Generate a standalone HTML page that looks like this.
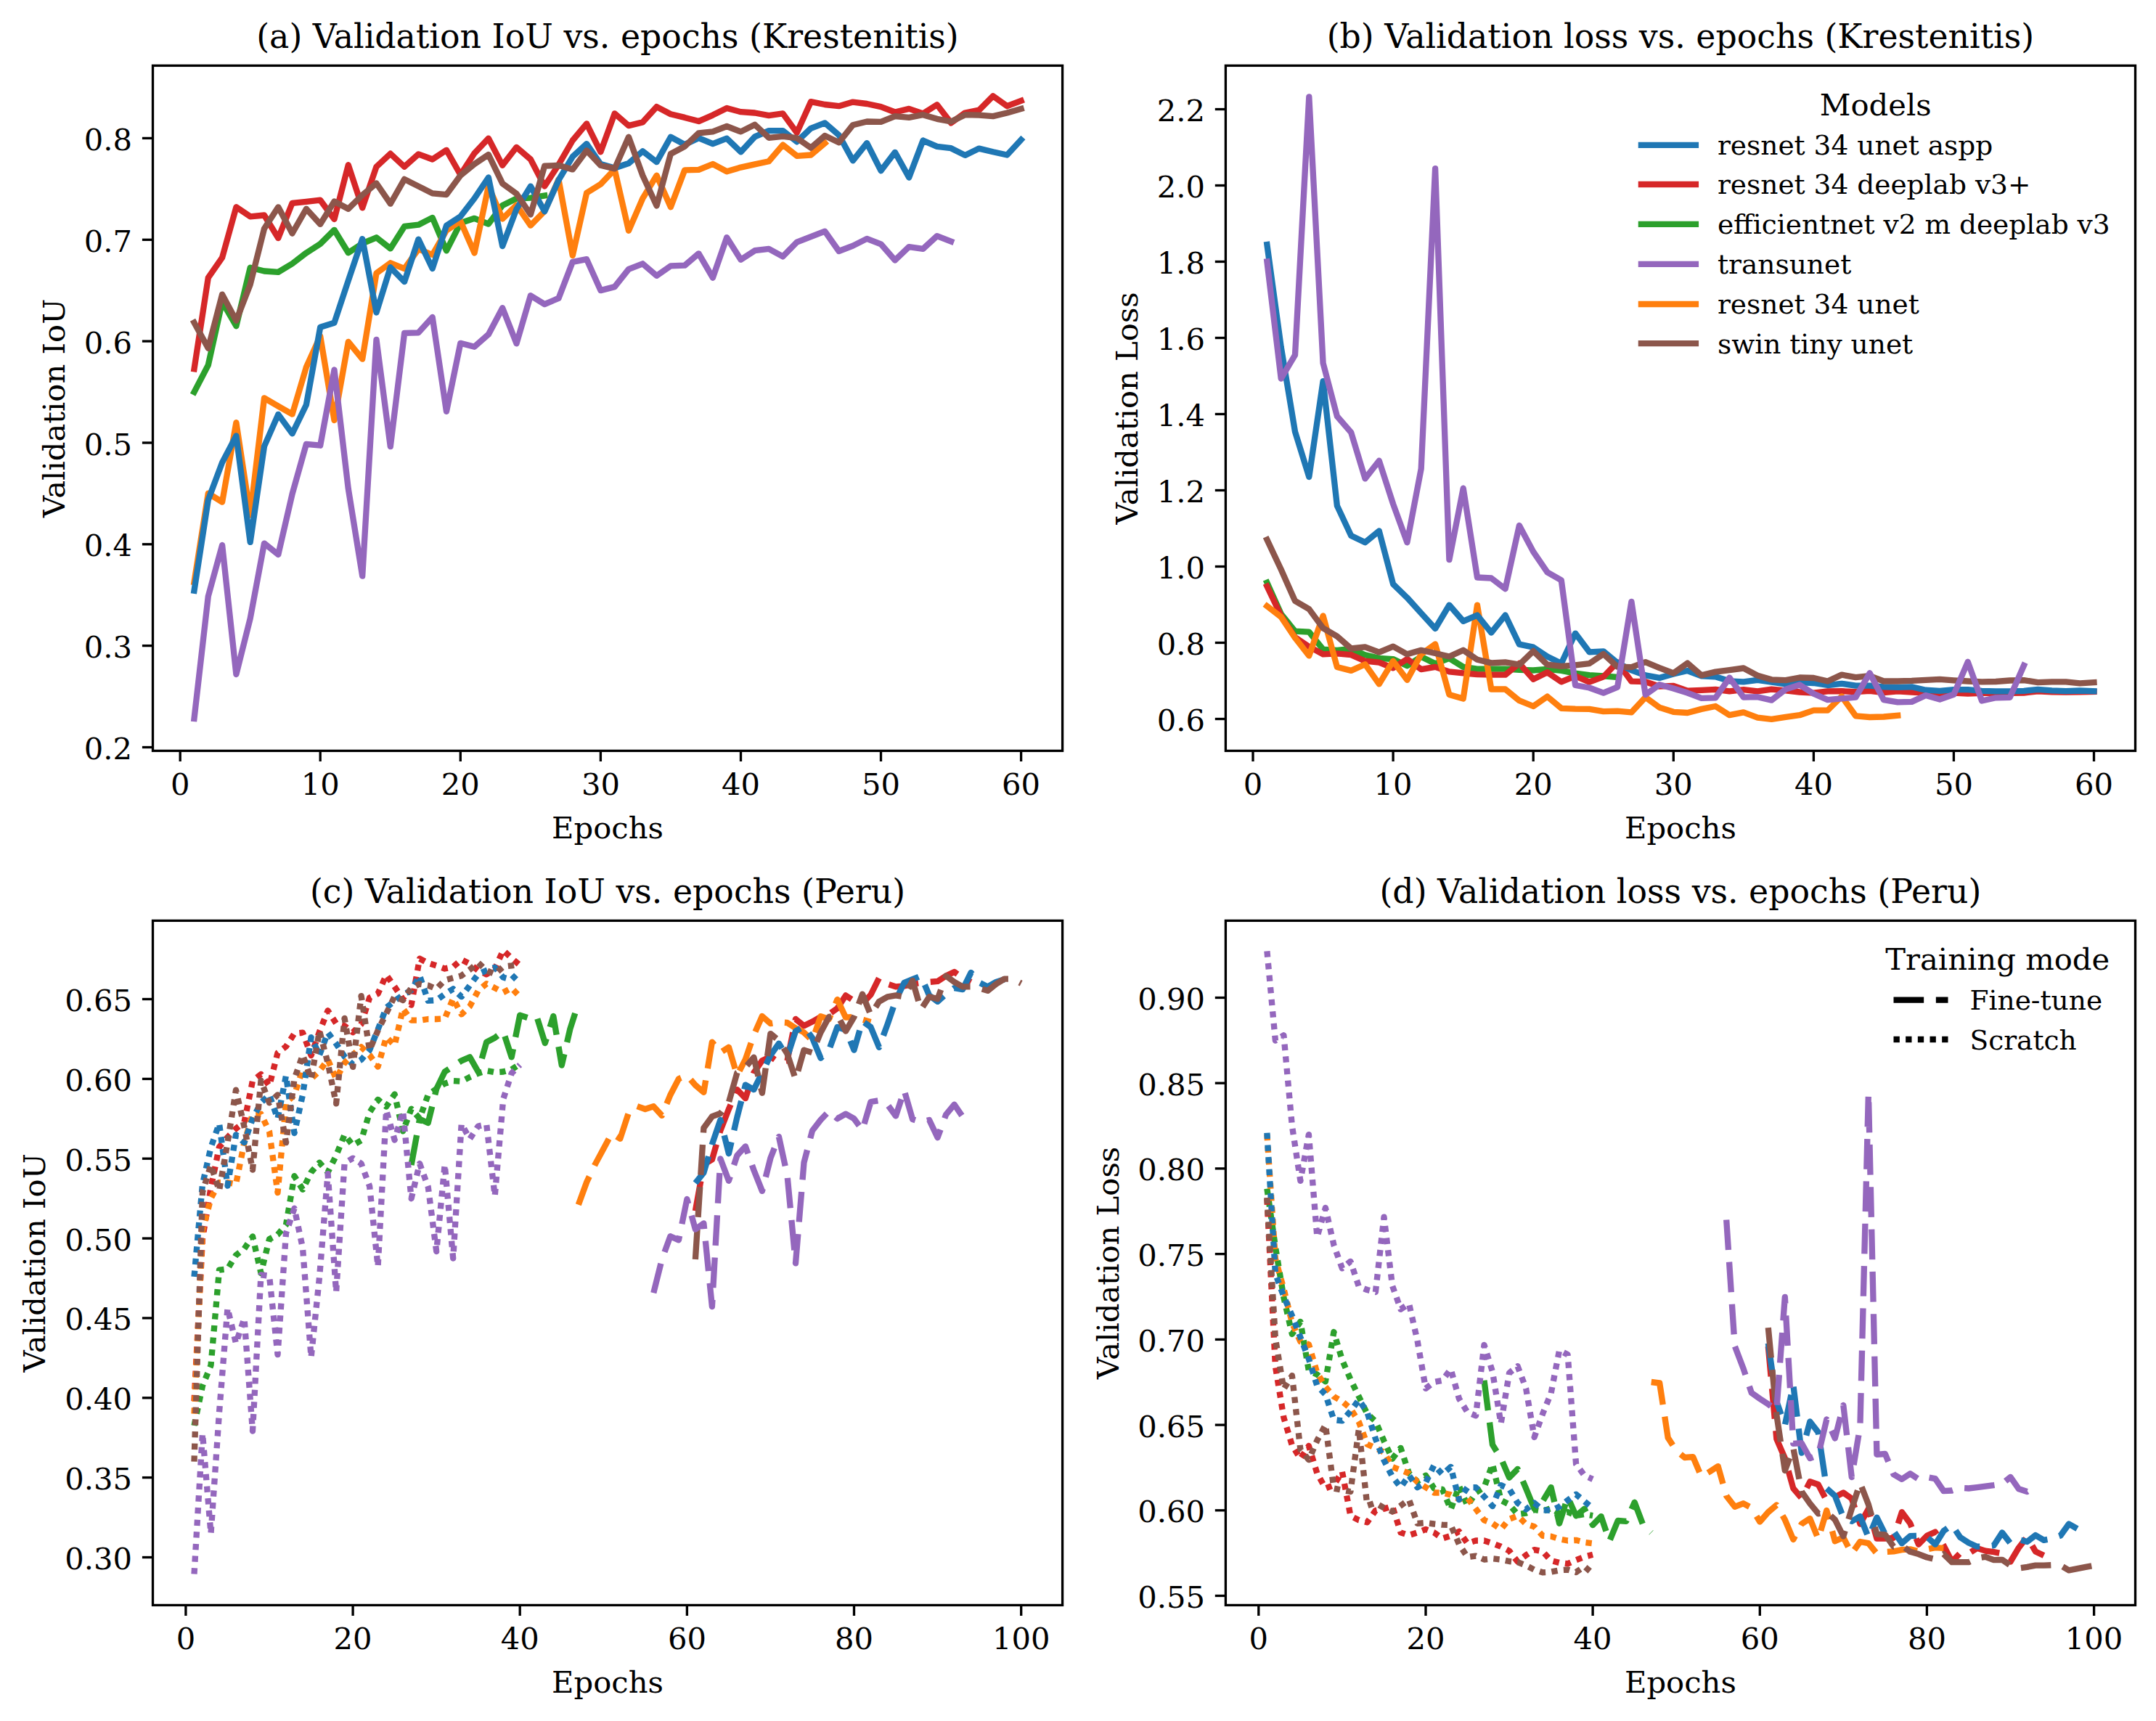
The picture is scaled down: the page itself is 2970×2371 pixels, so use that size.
<!DOCTYPE html>
<html lang="en"><head><meta charset="utf-8"><title>Validation curves</title>
<style>html,body{margin:0;padding:0;background:#fff}svg{display:block}</style></head>
<body>
<svg xmlns="http://www.w3.org/2000/svg" width="2970" height="2371" viewBox="0 0 2970 2371" font-family="'DejaVu Serif', 'Liberation Serif', serif" fill="#000">
<rect width="2970" height="2371" fill="#fff"/>
<defs>
<clipPath id="cpa"><rect x="210.5" y="90.4" width="1253.1" height="944"/></clipPath>
<clipPath id="cpb"><rect x="1688.4" y="90.4" width="1253.1" height="944"/></clipPath>
<clipPath id="cpc"><rect x="210.5" y="1268.4" width="1253.1" height="943"/></clipPath>
<clipPath id="cpd"><rect x="1688.4" y="1268.4" width="1253.1" height="943"/></clipPath>
</defs>
<g clip-path="url(#cpa)">
<polyline points="267.5,540.1 286.8,503 306.1,415.8 325.4,449.2 344.7,368.8 364,373.5 383.3,374.9 402.6,363.2 421.9,348.4 441.2,336 460.5,316.8 479.8,348.2 499.2,335.4 518.5,327.3 537.8,342.4 557.1,311.9 576.4,309.7 595.7,299.9 615,345.3 634.3,307.3 653.6,300.8 672.9,308.6 692.2,282.9 711.5,273.5 730.9,272.7 750.2,269.6" fill="none" stroke="#2ca02c" stroke-width="8.333" stroke-linejoin="round" stroke-linecap="square"/>
<polyline points="267.5,802 286.8,679.6 306.1,691.6 325.4,582.2 344.7,709.6 364,548.4 383.3,559.6 402.6,570.6 421.9,505.8 441.2,463.1 460.5,579 479.8,470.9 499.2,494.7 518.5,376.3 537.8,362.3 557.1,370.1 576.4,343.2 595.7,351 615,317.5 634.3,304.6 653.6,348.5 672.9,256.6 692.2,301.5 711.5,282.5 730.9,310.6 750.2,290.9 769.5,247.3 788.8,352.1 808.1,265.8 827.4,253.8 846.7,233.4 866,317.8 885.3,273.3 904.6,241.7 923.9,285.3 943.2,234.3 962.5,233.9 981.9,226 1001.2,236.2 1020.5,230.6 1039.8,226.4 1059.1,222.2 1078.4,199.6 1097.7,214.8 1117,213.5 1136.3,197.2" fill="none" stroke="#ff7f0e" stroke-width="8.333" stroke-linejoin="round" stroke-linecap="square"/>
<polyline points="267.5,813.7 286.8,688.7 306.1,637.1 325.4,600.5 344.7,746.9 364,614.9 383.3,570.9 402.6,597.4 421.9,557.7 441.2,450.7 460.5,444.8 479.8,386.5 499.2,329.1 518.5,430.5 537.8,368.3 557.1,388.1 576.4,329.6 595.7,370 615,310.7 634.3,298.3 653.6,273.3 672.9,244.5 692.2,339.1 711.5,288.1 730.9,256.6 750.2,291.3 769.5,248.2 788.8,215.8 808.1,198.1 827.4,226 846.7,231.5 866,225 885.3,208.3 904.6,223.2 923.9,188.8 943.2,199.1 962.5,190.1 981.9,198.1 1001.2,190.7 1020.5,209.3 1039.8,188.4 1059.1,180.1 1078.4,180.1 1097.7,195.3 1117,176.8 1136.3,169.4 1155.6,186.1 1174.9,221.3 1194.2,197.2 1213.5,235.2 1232.9,209.8 1252.2,244.5 1271.5,193.5 1290.8,201.8 1310.1,204.2 1329.4,213.9 1348.7,204.6 1368,209.3 1387.3,213.5 1406.6,192.6" fill="none" stroke="#1f77b4" stroke-width="8.333" stroke-linejoin="round" stroke-linecap="square"/>
<polyline points="267.5,508.3 286.8,382.7 306.1,354.9 325.4,285.3 344.7,298.3 364,296.5 383.3,328 402.6,279.8 421.9,277.9 441.2,275.7 460.5,302 479.8,227.3 499.2,286.3 518.5,229.7 537.8,211.7 557.1,229.7 576.4,212.4 595.7,219.5 615,206.8 634.3,240.8 653.6,211.1 672.9,190.7 692.2,227.8 711.5,202.8 730.9,219.5 750.2,256.6 769.5,226.9 788.8,193.5 808.1,170.3 827.4,209.3 846.7,156.4 866,173.1 885.3,168.4 904.6,147.1 923.9,157.3 943.2,161.9 962.5,167.1 981.9,158.6 1001.2,149 1020.5,154.2 1039.8,155.5 1059.1,159.2 1078.4,156.4 1097.7,182.9 1117,140.2 1136.3,144 1155.6,146.2 1174.9,140.6 1194.2,143 1213.5,147.1 1232.9,154.5 1252.2,149.9 1271.5,156.4 1290.8,144.3 1310.1,169.4 1329.4,155.5 1348.7,151.7 1368,132.3 1387.3,146.2 1406.6,138.8" fill="none" stroke="#d62728" stroke-width="8.333" stroke-linejoin="round" stroke-linecap="square"/>
<polyline points="267.5,990 286.8,821.5 306.1,751 325.4,929.1 344.7,852.1 364,748.6 383.3,764 402.6,680.5 421.9,611.9 441.2,613.7 460.5,509.5 479.8,673.4 499.2,793.7 518.5,467.9 537.8,615.2 557.1,458.9 576.4,458.3 595.7,437 615,566.9 634.3,472.8 653.6,477.7 672.9,460.7 692.2,424.3 711.5,473.3 730.9,407.2 750.2,419.1 769.5,410.9 788.8,360.8 808.1,357.1 827.4,400.1 846.7,395.1 866,370.8 885.3,363.3 904.6,379.8 923.9,366.4 943.2,365.7 962.5,349.3 981.9,382.7 1001.2,327.1 1020.5,357.7 1039.8,345.2 1059.1,342.8 1078.4,353.4 1097.7,333.6 1117,326.1 1136.3,318.7 1155.6,346 1174.9,338.6 1194.2,328.9 1213.5,336.3 1232.9,358.6 1252.2,340.1 1271.5,342.8 1290.8,325.2 1310.1,332.6" fill="none" stroke="#9467bd" stroke-width="8.333" stroke-linejoin="round" stroke-linecap="square"/>
<polyline points="267.5,444.5 286.8,479.8 306.1,405.6 325.4,441.7 344.7,392 364,315 383.3,285.3 402.6,321.5 421.9,287.7 441.2,308.9 460.5,277.5 479.8,287.7 499.2,268.6 518.5,252.5 537.8,280.7 557.1,246.9 576.4,256.6 595.7,266.4 615,268.1 634.3,241.7 653.6,226 672.9,213 692.2,252.9 711.5,266.8 730.9,295.5 750.2,228.7 769.5,227.8 788.8,233.4 808.1,207.4 827.4,227.8 846.7,232.4 866,188.8 885.3,241.7 904.6,283.5 923.9,212 943.2,201.8 962.5,183.3 981.9,181.4 1001.2,174 1020.5,181.4 1039.8,171.7 1059.1,189.8 1078.4,187.9 1097.7,190.1 1117,203.7 1136.3,187 1155.6,196.3 1174.9,172.2 1194.2,167.5 1213.5,167.9 1232.9,160.1 1252.2,161.9 1271.5,158.2 1290.8,163.8 1310.1,167.5 1329.4,158.2 1348.7,158.6 1368,160.1 1387.3,155.5 1406.6,149.9" fill="none" stroke="#8c564b" stroke-width="8.333" stroke-linejoin="round" stroke-linecap="square"/>
</g>
<g clip-path="url(#cpb)">
<polyline points="1745.4,802.7 1764.7,845.8 1784,869.7 1803.3,870.7 1822.6,894.7 1841.9,895.8 1861.2,894 1880.5,902.3 1899.8,906.9 1919.1,908.1 1938.4,917.3 1957.7,904.8 1977.1,914.3 1996.4,906.9 2015.7,918.9 2035,921.7 2054.3,921.7 2073.6,921.7 2092.9,922.9 2112.2,923.5 2131.5,921.8 2150.8,923.9 2170.1,927.7 2189.4,930.2 2208.8,931.4 2228.1,932.9" fill="none" stroke="#2ca02c" stroke-width="8.333" stroke-linejoin="round" stroke-linecap="square"/>
<polyline points="1745.4,807.7 1764.7,848.2 1784,878 1803.3,890.9 1822.6,901.3 1841.9,900.3 1861.2,902.1 1880.5,910.7 1899.8,912.7 1919.1,920.3 1938.4,907.9 1957.7,922.1 1977.1,918.9 1996.4,925.4 2015.7,927.3 2035,929.1 2054.3,929.7 2073.6,929.7 2092.9,913.9 2112.2,935.8 2131.5,926.3 2150.8,939.4 2170.1,931.4 2189.4,939.6 2208.8,932.3 2228.1,912.4 2247.4,938.7 2266.7,939.2 2286,945.7 2305.3,944.9 2324.6,951.7 2343.9,950.8 2363.2,949.8 2382.5,952.3 2401.8,950.2 2421.1,952.4 2440.4,949.6 2459.8,951.3 2479.1,953.5 2498.4,954.6 2517.7,952.4 2537,952.2 2556.3,953.2 2575.6,951.8 2594.9,954.1 2614.2,952.4 2633.5,953.5 2652.8,954.6 2672.1,956.3 2691.4,954.6 2710.8,955.7 2730.1,954.9 2749.4,954.5 2768.7,954.9 2788,954.5 2807.3,952.4 2826.6,953.3 2845.9,953.7 2865.2,953.3 2884.5,953" fill="none" stroke="#d62728" stroke-width="8.333" stroke-linejoin="round" stroke-linecap="square"/>
<polyline points="1745.4,835.1 1764.7,849.9 1784,878.8 1803.3,903.4 1822.6,848.4 1841.9,919 1861.2,923.9 1880.5,915.2 1899.8,942.3 1919.1,910.7 1938.4,936.8 1957.7,901.3 1977.1,887.4 1996.4,957 2015.7,962.5 2035,833.6 2054.3,949.5 2073.6,949.5 2092.9,965.2 2112.2,973 2131.5,959.6 2150.8,975.8 2170.1,976.7 2189.4,976.9 2208.8,980.2 2228.1,979.7 2247.4,981.3 2266.7,960.7 2286,974.7 2305.3,980.8 2324.6,982 2343.9,976.9 2363.2,973 2382.5,985.2 2401.8,981.3 2421.1,988.6 2440.4,990.8 2459.8,987.8 2479.1,985.2 2498.4,978.6 2517.7,978.6 2537,959.5 2556.3,986.3 2575.6,988 2594.9,987.5 2614.2,985.8" fill="none" stroke="#ff7f0e" stroke-width="8.333" stroke-linejoin="round" stroke-linecap="square"/>
<polyline points="1745.4,337 1764.7,478 1784,594.8 1803.3,657 1822.6,525.2 1841.9,696.8 1861.2,738 1880.5,747.3 1899.8,731.5 1919.1,804.8 1938.4,823.4 1957.7,844.7 1977.1,866 1996.4,833.6 2015.7,855.8 2035,847.5 2054.3,871.6 2073.6,847.5 2092.9,887.7 2112.2,891.7 2131.5,904.4 2150.8,913.9 2170.1,872.6 2189.4,898.3 2208.8,897.3 2228.1,913.2 2247.4,923.4 2266.7,930.4 2286,933.9 2305.3,928.5 2324.6,924 2343.9,931.4 2363.2,932.3 2382.5,938.3 2401.8,939.3 2421.1,936.8 2440.4,939.6 2459.8,942.4 2479.1,940.2 2498.4,941 2517.7,944 2537,941.8 2556.3,944.6 2575.6,944.6 2594.9,946.3 2614.2,946.8 2633.5,946.3 2652.8,950.7 2672.1,951.8 2691.4,950.2 2710.8,950.2 2730.1,951.8 2749.4,952.4 2768.7,952.4 2788,951.8 2807.3,949.9 2826.6,951.3 2845.9,952.2 2865.2,951.5 2884.5,952.2" fill="none" stroke="#1f77b4" stroke-width="8.333" stroke-linejoin="round" stroke-linecap="square"/>
<polyline points="1745.4,743.6 1764.7,784.5 1784,827.9 1803.3,839.1 1822.6,865.4 1841.9,876.6 1861.2,893.5 1880.5,891.3 1899.8,898.6 1919.1,890.7 1938.4,901.3 1957.7,895.8 1977.1,900 1996.4,904.5 2015.7,895.7 2035,908.7 2054.3,913.4 2073.6,912.4 2092.9,915.7 2112.2,897 2131.5,915.7 2150.8,917.9 2170.1,916.3 2189.4,914.1 2208.8,901 2228.1,918.6 2247.4,919.2 2266.7,912.2 2286,920.1 2305.3,927.5 2324.6,913.6 2343.9,930.4 2363.2,925.6 2382.5,923.1 2401.8,920.5 2421.1,930.7 2440.4,936.3 2459.8,937.1 2479.1,933.5 2498.4,934 2517.7,938.5 2537,929.6 2556.3,933.2 2575.6,931.2 2594.9,938.5 2614.2,938.5 2633.5,937.9 2652.8,936.8 2672.1,935.9 2691.4,937.4 2710.8,938.5 2730.1,939.3 2749.4,939 2768.7,937.5 2788,937.1 2807.3,940.2 2826.6,939.3 2845.9,939.3 2865.2,941.3 2884.5,940.2" fill="none" stroke="#8c564b" stroke-width="8.333" stroke-linejoin="round" stroke-linecap="square"/>
<polyline points="1745.4,360.3 1764.7,521.5 1784,489.1 1803.3,133.4 1822.6,500.2 1841.9,573.5 1861.2,595.7 1880.5,659.4 1899.8,634.7 1919.1,694.4 1938.4,747.3 1957.7,645.8 1977.1,232.1 1996.4,771.1 2015.7,672.7 2035,795.5 2054.3,796.5 2073.6,811.3 2092.9,724 2112.2,760.1 2131.5,788.3 2150.8,799.4 2170.1,944 2189.4,947.5 2208.8,954.6 2228.1,946.6 2247.4,828.8 2266.7,957.2 2286,943.2 2305.3,948.6 2324.6,954.6 2343.9,961.9 2363.2,961.3 2382.5,933.6 2401.8,960.7 2421.1,960.2 2440.4,964.6 2459.8,949.6 2479.1,943.5 2498.4,955.7 2517.7,964.1 2537,962.4 2556.3,960.7 2575.6,927.3 2594.9,964.1 2614.2,967.4 2633.5,966.9 2652.8,958 2672.1,963.5 2691.4,956.8 2710.8,911.8 2730.1,965.5 2749.4,961.3 2768.7,960.9 2788,916.8" fill="none" stroke="#9467bd" stroke-width="8.333" stroke-linejoin="round" stroke-linecap="square"/>
</g>
<g clip-path="url(#cpc)">
<polyline points="267.5,1964 279,1909.2 290.5,1881 302,1749.6 313.5,1748.2 325,1729.3 336.5,1720.4 348,1703.5 359.5,1754 371,1707.2 382.5,1700.9 394,1687.5 405.5,1620.2 417,1638.8 428.6,1615 440.1,1601.7 451.6,1615 463.1,1592 474.6,1563.1 486.1,1577.9 497.6,1571.2 509.1,1532.7 520.6,1514.8 532.1,1524.5 543.6,1507.5 555.1,1558.4 566.6,1527.7 578.1,1541 589.7,1508.4 601.2,1500 612.7,1492.8 624.2,1489.1 635.7,1489.8 647.2,1483.9 658.7,1478.7 670.2,1475 681.7,1477.2 693.2,1476.5 704.7,1473.5 716.2,1465.8" fill="none" stroke="#2ca02c" stroke-width="8.333" stroke-linejoin="round" stroke-dasharray="8.333 8.333"/>
<polyline points="566.6,1604.9 578.1,1541.8 589.7,1547 601.2,1500.2 612.7,1476.5 624.2,1469 635.7,1461.3 647.2,1456.4 658.7,1476.5 670.2,1435.7 681.7,1429.7 693.2,1420.8 704.7,1456.4 716.2,1398.6 727.7,1402.3 739.2,1400 750.8,1437.1 762.3,1400 773.8,1467.6 785.3,1417.8 796.8,1381.5" fill="none" stroke="#2ca02c" stroke-width="8.333" stroke-linejoin="round" stroke-dasharray="41.667 16.667"/>
<polyline points="267.5,1930.2 279,1706.1 290.5,1636.4 302,1580.2 313.5,1566.8 325,1554.9 336.5,1545.9 348,1489 359.5,1480 371,1496 382.5,1450.5 394,1441.8 405.5,1423.7 417,1422.6 428.6,1454.1 440.1,1421.3 451.6,1392.3 463.1,1410.1 474.6,1413.2 486.1,1422.2 497.6,1411 509.1,1374.5 520.6,1369 532.1,1343.1 543.6,1359.4 555.1,1376.7 566.6,1384.6 578.1,1320.7 589.7,1326.8 601.2,1330.4 612.7,1334.5 624.2,1332.1 635.7,1322 647.2,1327.9 658.7,1337 670.2,1342.4 681.7,1334.5 693.2,1309.3 704.7,1320 716.2,1329.7" fill="none" stroke="#d62728" stroke-width="8.333" stroke-linejoin="round" stroke-dasharray="8.333 8.333"/>
<polyline points="957.9,1668.3 969.4,1604.5 980.9,1597.5 992.4,1557.4 1003.9,1528 1015.4,1501.1 1026.9,1513.2 1038.4,1477.9 1049.9,1461.2 1061.4,1455.7 1072.9,1463.7 1084.5,1461.4 1096,1403.9 1107.5,1413.2 1119,1407.6 1130.5,1401.1 1142,1397.4 1153.5,1389.1 1165,1371.4 1176.5,1378.8 1188,1382.6 1199.5,1370.5 1211,1347.3 1222.5,1355.7 1234,1359.4 1245.6,1358.4 1257.1,1355.7 1268.6,1353.8 1280.1,1352.9 1291.6,1351.9 1303.1,1344.5 1314.6,1339 1326.1,1347.3 1337.6,1353" fill="none" stroke="#d62728" stroke-width="8.333" stroke-linejoin="round" stroke-dasharray="41.667 16.667"/>
<polyline points="267.5,1947.7 279,1695.1 290.5,1651.1 302,1629.2 313.5,1629.2 325,1631.4 336.5,1574.2 348,1534.7 359.5,1534.7 371,1558.9 382.5,1643.2 394,1519.3 405.5,1508.3 417,1473.2 428.6,1486.4 440.1,1475.4 451.6,1460 463.1,1486.4 474.6,1464.4 486.1,1453.4 497.6,1442.4 509.1,1453.4 520.6,1469.7 532.1,1428.8 543.6,1440.2 555.1,1389.5 566.6,1405.7 578.1,1405.7 589.7,1404 601.2,1404 612.7,1403.3 624.2,1375.6 635.7,1397.4 647.2,1386.4 658.7,1364.9 670.2,1355.2 681.7,1361.1 693.2,1367.3 704.7,1361.1 716.2,1373.2" fill="none" stroke="#ff7f0e" stroke-width="8.333" stroke-linejoin="round" stroke-dasharray="8.333 8.333"/>
<polyline points="796.8,1659.7 808.3,1628.2 819.8,1604.1 831.3,1582.7 842.8,1561.4 854.3,1568.8 865.8,1533.6 877.3,1523.9 888.8,1528 900.3,1524.3 911.8,1536.9 923.4,1508.5 934.9,1486.3 946.4,1481.6 957.9,1495 969.4,1504.8 980.9,1435.6 992.4,1450.1 1003.9,1442.7 1015.4,1481.6 1026.9,1459.4 1038.4,1426 1049.9,1400 1061.4,1410.2 1072.9,1408.3 1084.5,1409 1096,1416.4 1107.5,1422.4 1119,1433.6 1130.5,1400.2 1142,1403.9 1153.5,1377 1165,1401.7 1176.5,1401.1 1188,1404.8 1199.5,1408" fill="none" stroke="#ff7f0e" stroke-width="8.333" stroke-linejoin="round" stroke-dasharray="41.667 16.667"/>
<polyline points="267.5,1758.8 279,1631.4 290.5,1580.8 302,1547.9 313.5,1633.6 325,1563.3 336.5,1574.2 348,1541.3 359.5,1519.3 371,1508.3 382.5,1541.3 394,1482 405.5,1561.1 417,1508.3 428.6,1429.2 440.1,1453.4 451.6,1422.6 463.1,1438 474.6,1455.6 486.1,1466.6 497.6,1460 509.1,1446.8 520.6,1418.2 532.1,1388.4 543.6,1379.1 555.1,1370.8 566.6,1364.2 578.1,1344.2 589.7,1378.7 601.2,1378 612.7,1369.7 624.2,1362.4 635.7,1373.2 647.2,1357.6 658.7,1342 670.2,1337 681.7,1332.8 693.2,1346.6 704.7,1349.7 716.2,1338.3" fill="none" stroke="#1f77b4" stroke-width="8.333" stroke-linejoin="round" stroke-dasharray="8.333 8.333"/>
<polyline points="957.9,1629.8 969.4,1615.7 980.9,1576.5 992.4,1542.9 1003.9,1589.2 1015.4,1539.1 1026.9,1494.6 1038.4,1501.1 1049.9,1477.9 1061.4,1453.8 1072.9,1437.6 1084.5,1455.8 1096,1420.6 1107.5,1414.1 1119,1429.9 1130.5,1457.7 1142,1446.6 1153.5,1415 1165,1418.7 1176.5,1446.6 1188,1406.7 1199.5,1415 1211,1442.9 1222.5,1411.3 1234,1377.9 1245.6,1353.8 1257.1,1349.2 1268.6,1344.5 1280.1,1371.4 1291.6,1379.8 1303.1,1369.6 1314.6,1361.2 1326.1,1363.1 1337.6,1339.9 1349.1,1353.8 1360.6,1359.4 1372.1,1352.9 1383.6,1349.2" fill="none" stroke="#1f77b4" stroke-width="8.333" stroke-linejoin="round" stroke-dasharray="41.667 16.667"/>
<polyline points="267.5,2013.7 279,1642.3 290.5,1605 302,1640.2 313.5,1574.2 325,1501.7 336.5,1552.3 348,1611.6 359.5,1488.6 371,1519.3 382.5,1508.3 394,1574.2 405.5,1486.4 417,1453.4 428.6,1486.4 440.1,1420.4 451.6,1464.4 463.1,1520.4 474.6,1402.9 486.1,1469.9 497.6,1372.1 509.1,1446.8 520.6,1419.6 532.1,1396.3 543.6,1372.5 555.1,1378 566.6,1361.1 578.1,1355.6 589.7,1357.6 601.2,1362.4 612.7,1350.4 624.2,1347.3 635.7,1344.2 647.2,1335.9 658.7,1326.2 670.2,1337 681.7,1342 693.2,1331.7 704.7,1330.4 716.2,1328.6" fill="none" stroke="#8c564b" stroke-width="8.333" stroke-linejoin="round" stroke-dasharray="8.333 8.333"/>
<polyline points="957.9,1735.1 969.4,1554 980.9,1538.2 992.4,1534 1003.9,1518.7 1015.4,1477.9 1026.9,1470.5 1038.4,1456.6 1049.9,1505.8 1061.4,1424.1 1072.9,1433.4 1084.5,1451.9 1096,1487 1107.5,1446.6 1119,1450.3 1130.5,1422.4 1142,1401.1 1153.5,1398.3 1165,1420.6 1176.5,1401.1 1188,1369.6 1199.5,1398.3 1211,1379.8 1222.5,1373.3 1234,1371.4 1245.6,1373.3 1257.1,1351 1268.6,1390.9 1280.1,1373.3 1291.6,1376.1 1303.1,1344.5 1314.6,1352.9 1326.1,1359.4 1337.6,1359.4 1349.1,1361.2 1360.6,1364.9 1372.1,1355.7 1383.6,1348.6 1395.1,1348.6 1406.7,1354.7" fill="none" stroke="#8c564b" stroke-width="8.333" stroke-linejoin="round" stroke-dasharray="41.667 16.667"/>
<polyline points="267.5,2168.5 279,1975 290.5,2112.8 302,1946 313.5,1802.3 325,1850.6 336.5,1816.4 348,1971.5 359.5,1756.3 371,1757.8 382.5,1866.2 394,1699 405.5,1664.7 417,1719.4 428.6,1869.9 440.1,1759 451.6,1617.2 463.1,1780.1 474.6,1602.4 486.1,1595.6 497.6,1603 509.1,1634.2 520.6,1744.8 532.1,1529.7 543.6,1570.5 555.1,1531.2 566.6,1651.3 578.1,1603 589.7,1635 601.2,1724 612.7,1604.5 624.2,1733.6 635.7,1548.5 647.2,1569 658.7,1551.5 670.2,1549 681.7,1647.6 693.2,1514.4 704.7,1478.7 716.2,1467" fill="none" stroke="#9467bd" stroke-width="8.333" stroke-linejoin="round" stroke-dasharray="8.333 8.333"/>
<polyline points="900.3,1781.2 911.8,1735.1 923.4,1703.2 934.9,1708.4 946.4,1652 957.9,1693.6 969.4,1685.4 980.9,1800 992.4,1596.4 1003.9,1626.8 1015.4,1591.9 1026.9,1579.3 1038.4,1612 1049.9,1640.9 1061.4,1595.6 1072.9,1566 1084.5,1619.4 1096,1740.3 1107.5,1601.6 1119,1557.7 1130.5,1542.9 1142,1530.9 1153.5,1541.2 1165,1534.7 1176.5,1541.2 1188,1557 1199.5,1518 1211,1516.1 1222.5,1521.7 1234,1537.5 1245.6,1502.2 1257.1,1542.1 1268.6,1545.8 1280.1,1543 1291.6,1567.2 1303.1,1535.6 1314.6,1521.7 1326.1,1538.4" fill="none" stroke="#9467bd" stroke-width="8.333" stroke-linejoin="round" stroke-dasharray="41.667 16.667"/>
</g>
<g clip-path="url(#cpd)">
<polyline points="1745.4,1637.6 1756.9,1717.7 1768.4,1787.5 1779.9,1838 1791.4,1820.9 1802.9,1888.4 1814.4,1893.6 1825.9,1903.3 1837.4,1835 1848.9,1873.6 1860.4,1900.3 1871.9,1924 1883.4,1947.8 1894.9,1958.2 1906.5,1985.2 1918,2009.7 1929.5,1994.9 1941,2029.8 1952.5,2040.9 1964,2032.7 1975.5,2050.5 1987,2052 1998.5,2079.5 2010,2047.6 2021.5,2074.3 2033,2056.5 2044.5,2049.1 2056,2017.1 2067.6,2066.9 2079.1,2072.8 2090.6,2086.2 2102.1,2084.7 2113.6,2080 2125.1,2082 2136.6,2078 2148.1,2085 2159.6,2083 2171.1,2088 2182.6,2086 2194.1,2088" fill="none" stroke="#2ca02c" stroke-width="8.333" stroke-linejoin="round" stroke-dasharray="8.333 8.333"/>
<polyline points="2044.5,1901.8 2056,1990.4 2067.6,2009 2079.1,2035.7 2090.6,2023.8 2102.1,2050.5 2113.6,2078.7 2125.1,2068.3 2136.6,2049.1 2148.1,2098.8 2159.6,2062.4 2171.1,2088.4 2182.6,2078.7 2194.1,2101 2205.6,2089.1 2217.1,2123.3 2228.7,2095 2240.2,2095.8 2251.7,2069.8 2263.2,2100.3 2274.7,2111.4" fill="none" stroke="#2ca02c" stroke-width="8.333" stroke-linejoin="round" stroke-dasharray="41.667 16.667"/>
<polyline points="1745.4,1651.4 1756.9,1882.5 1768.4,1953 1779.9,1991.2 1791.4,2009.7 1802.9,1991.9 1814.4,2029.8 1825.9,2050.5 1837.4,2046.1 1848.9,2027.5 1860.4,2088.4 1871.9,2094.3 1883.4,2097.3 1894.9,2081 1906.5,2078.7 1918,2075 1929.5,2111.4 1941,2115.1 1952.5,2111.4 1964,2106.9 1975.5,2111.4 1987,2119.6 1998.5,2115.8 2010,2109.9 2021.5,2126.2 2033,2122.5 2044.5,2122.5 2056,2126.2 2067.6,2130.7 2079.1,2136.6 2090.6,2151.5 2102.1,2142.6 2113.6,2135.1 2125.1,2137.4 2136.6,2150 2148.1,2153 2159.6,2154.4 2171.1,2149.2 2182.6,2144.8 2194.1,2141.8" fill="none" stroke="#d62728" stroke-width="8.333" stroke-linejoin="round" stroke-dasharray="8.333 8.333"/>
<polyline points="2435.8,1855 2447.3,1982.3 2458.8,2009 2470.3,2050.5 2481.8,2063.9 2493.3,2041.3 2504.8,2045.3 2516.3,2067.6 2527.8,2062.4 2539.3,2056.5 2550.8,2064.6 2562.4,2099.5 2573.9,2078.7 2585.4,2119.6 2596.9,2119.6 2608.4,2118.8 2619.9,2083.2 2631.4,2098.8 2642.9,2127.7 2654.4,2115.8 2665.9,2110.6 2677.4,2129.2 2688.9,2151.5 2700.4,2139.6 2711.9,2140.3 2723.5,2132.9 2735,2136.6 2746.5,2138.1 2758,2140.3 2769.5,2151.5 2781,2132.2 2792.5,2117.3 2804,2137.4 2815.5,2142.9" fill="none" stroke="#d62728" stroke-width="8.333" stroke-linejoin="round" stroke-dasharray="41.667 16.667"/>
<polyline points="1745.4,1563 1756.9,1734 1768.4,1775.6 1779.9,1822.4 1791.4,1848.3 1802.9,1852.1 1814.4,1891.4 1825.9,1910.7 1837.4,1924 1848.9,1930.7 1860.4,1940.4 1871.9,1959 1883.4,1989.7 1894.9,1994.9 1906.5,2000.8 1918,2020.9 1929.5,2025.3 1941,2029.8 1952.5,2041.6 1964,2049.1 1975.5,2056.5 1987,2056.5 1998.5,2059.4 2010,2065.4 2021.5,2063.9 2033,2078.7 2044.5,2094.3 2056,2098.8 2067.6,2106.9 2079.1,2092.8 2090.6,2088.4 2102.1,2099.5 2113.6,2103.2 2125.1,2115.8 2136.6,2116.6 2148.1,2120.3 2159.6,2122.5 2171.1,2121.8 2182.6,2124.8 2194.1,2126.2" fill="none" stroke="#ff7f0e" stroke-width="8.333" stroke-linejoin="round" stroke-dasharray="8.333 8.333"/>
<polyline points="2274.7,1904 2286.2,1905.5 2297.7,1980.8 2309.2,1998.6 2320.7,2008 2332.2,2007.2 2343.7,2034.2 2355.2,2027.5 2366.7,2020.1 2378.2,2060.9 2389.7,2075.8 2401.3,2071.3 2412.8,2077.3 2424.3,2096.5 2435.8,2083.2 2447.3,2073.5 2458.8,2093.6 2470.3,2121 2481.8,2099.5 2493.3,2092.1 2504.8,2120.3 2516.3,2081 2527.8,2123.3 2539.3,2118.1 2550.8,2140.3 2562.4,2124 2573.9,2126.2 2585.4,2140.3 2596.9,2138.1 2608.4,2137.4 2619.9,2135.1 2631.4,2134.4 2642.9,2137.4 2654.4,2134.4 2665.9,2132.2 2677.4,2132.9" fill="none" stroke="#ff7f0e" stroke-width="8.333" stroke-linejoin="round" stroke-dasharray="41.667 16.667"/>
<polyline points="1745.4,1560.8 1756.9,1754.8 1768.4,1786 1779.9,1812.7 1791.4,1842.4 1802.9,1872.1 1814.4,1909.2 1825.9,1921.1 1837.4,1956 1848.9,1957.4 1860.4,1944.1 1871.9,1928.5 1883.4,1945.6 1894.9,1982.3 1906.5,2011.9 1918,2034.2 1929.5,2049.1 1941,2032.7 1952.5,2049.1 1964,2042.4 1975.5,2018.6 1987,2031.2 1998.5,2020.9 2010,2066.1 2021.5,2049.1 2033,2049.1 2044.5,2061.7 2056,2075 2067.6,2046.1 2079.1,2051.3 2090.6,2070.6 2102.1,2079.5 2113.6,2070.6 2125.1,2080.2 2136.6,2081 2148.1,2075.8 2159.6,2066.9 2171.1,2058.7 2182.6,2068.3 2194.1,2078" fill="none" stroke="#1f77b4" stroke-width="8.333" stroke-linejoin="round" stroke-dasharray="8.333 8.333"/>
<polyline points="2435.8,1850.6 2447.3,1930.8 2458.8,1963.4 2470.3,1907.8 2481.8,2001.6 2493.3,1958.5 2504.8,1973.4 2516.3,2050.5 2527.8,2060.9 2539.3,2090.6 2550.8,2095.8 2562.4,2089.1 2573.9,2118.1 2585.4,2090.6 2596.9,2113.6 2608.4,2109.2 2619.9,2126.2 2631.4,2116.2 2642.9,2115.8 2654.4,2117.3 2665.9,2127.7 2677.4,2109.2 2688.9,2101 2700.4,2118.1 2711.9,2125.5 2723.5,2130.7 2735,2130.7 2746.5,2129.2 2758,2111.4 2769.5,2126.2 2781,2121 2792.5,2124 2804,2115.1 2815.5,2121.8 2827,2119.6 2838.5,2115.5 2850,2099.5 2861.5,2106.2" fill="none" stroke="#1f77b4" stroke-width="8.333" stroke-linejoin="round" stroke-dasharray="41.667 16.667"/>
<polyline points="1745.4,1649.9 1756.9,1843.9 1768.4,1913.7 1779.9,1895.1 1791.4,1997.1 1802.9,2011.2 1814.4,1984.5 1825.9,1963 1837.4,2050.5 1848.9,2052.8 1860.4,2055 1871.9,1968.9 1883.4,2074.3 1894.9,2070.6 1906.5,2077.3 1918,2082.4 1929.5,2074.3 1941,2066.1 1952.5,2098.8 1964,2098 1975.5,2099.5 1987,2100.7 1998.5,2101 2010,2127.7 2021.5,2145.2 2033,2143.6 2044.5,2148.5 2056,2147.3 2067.6,2148.5 2079.1,2151 2090.6,2152.2 2102.1,2156.7 2113.6,2162.6 2125.1,2166.3 2136.6,2165.6 2148.1,2163.3 2159.6,2162.6 2171.1,2166 2182.6,2158.1 2194.1,2167.8" fill="none" stroke="#8c564b" stroke-width="8.333" stroke-linejoin="round" stroke-dasharray="8.333 8.333"/>
<polyline points="2435.8,1829.1 2447.3,1949 2458.8,2026 2470.3,1994.9 2481.8,2055 2493.3,2071.3 2504.8,2085.4 2516.3,2083.2 2527.8,2093.6 2539.3,2116.6 2550.8,2078.7 2562.4,2043.1 2573.9,2072.8 2585.4,2113.6 2596.9,2114.4 2608.4,2130.7 2619.9,2129.2 2631.4,2137.8 2642.9,2141.1 2654.4,2145.5 2665.9,2148.2 2677.4,2141.1 2688.9,2152.2 2700.4,2152.2 2711.9,2152.2 2723.5,2146.7 2735,2144.8 2746.5,2149.2 2758,2148.8 2769.5,2156.7 2781,2160.4 2792.5,2158.9 2804,2156.7 2815.5,2156.7 2827,2156.2 2838.5,2156.7 2850,2163.3 2861.5,2161.1 2873,2158.9 2884.6,2156.7" fill="none" stroke="#8c564b" stroke-width="8.333" stroke-linejoin="round" stroke-dasharray="41.667 16.667"/>
<polyline points="1745.4,1310.4 1756.9,1433.6 1768.4,1426.2 1779.9,1551.2 1791.4,1626.9 1802.9,1563.1 1814.4,1704.1 1825.9,1664 1837.4,1715.2 1848.9,1747.4 1860.4,1737.8 1871.9,1772.6 1883.4,1777 1894.9,1780 1906.5,1676.6 1918,1771.2 1929.5,1803.8 1941,1796.1 1952.5,1846.9 1964,1912.9 1975.5,1904 1987,1901.8 1998.5,1886.2 2010,1927 2021.5,1945.6 2033,1950.4 2044.5,1852.8 2056,1889.9 2067.6,1961.2 2079.1,1891.4 2090.6,1882.2 2102.1,1912.9 2113.6,1980 2125.1,1947.8 2136.6,1919.6 2148.1,1860.2 2159.6,1866.2 2171.1,2017.1 2182.6,2032.7 2194.1,2037.9" fill="none" stroke="#9467bd" stroke-width="8.333" stroke-linejoin="round" stroke-dasharray="8.333 8.333"/>
<polyline points="2378.2,1680.4 2389.7,1854.3 2401.3,1884.7 2412.8,1918.9 2424.3,1927 2435.8,1934.5 2447.3,1942.6 2458.8,1786.8 2470.3,1988.9 2481.8,1988.2 2493.3,2009 2504.8,2004.5 2516.3,1955.5 2527.8,1981.5 2539.3,1936 2550.8,2035 2562.4,1965 2573.9,1506.4 2585.4,2003.8 2596.9,2003 2608.4,2031.2 2619.9,2037.9 2631.4,2030.2 2642.9,2037.9 2654.4,2035 2665.9,2037.2 2677.4,2054.2 2688.9,2053.5 2700.4,2049.8 2711.9,2050.5 2723.5,2049.1 2735,2047.6 2746.5,2046.1 2758,2044.3 2769.5,2034.9 2781,2051.3 2792.5,2055 2804,2047.3" fill="none" stroke="#9467bd" stroke-width="8.333" stroke-linejoin="round" stroke-dasharray="41.667 16.667"/>
</g>
<g stroke="#000" stroke-width="3.333" fill="none">
<rect x="210.5" y="90.4" width="1253.1" height="944" />
<path d="M248.2 1034.4v14.6"/>
<path d="M441.2 1034.4v14.6"/>
<path d="M634.3 1034.4v14.6"/>
<path d="M827.4 1034.4v14.6"/>
<path d="M1020.5 1034.4v14.6"/>
<path d="M1213.5 1034.4v14.6"/>
<path d="M1406.6 1034.4v14.6"/>
<path d="M210.5 1029.5h-14.6"/>
<path d="M210.5 889.6h-14.6"/>
<path d="M210.5 749.8h-14.6"/>
<path d="M210.5 610h-14.6"/>
<path d="M210.5 470.1h-14.6"/>
<path d="M210.5 330.3h-14.6"/>
<path d="M210.5 190.4h-14.6"/>
</g>
<g font-size="41.7" text-anchor="middle">
<text x="248.2" y="1095.4">0</text>
<text x="441.2" y="1095.4">10</text>
<text x="634.3" y="1095.4">20</text>
<text x="827.4" y="1095.4">30</text>
<text x="1020.5" y="1095.4">40</text>
<text x="1213.5" y="1095.4">50</text>
<text x="1406.6" y="1095.4">60</text>
<text x="837" y="1155.1">Epochs</text>
<text transform="translate(89.3 562.4) rotate(-90)">Validation IoU</text>
</g>
<g font-size="41.7" text-anchor="end">
<text x="182.1" y="1046">0.2</text>
<text x="182.1" y="906.1">0.3</text>
<text x="182.1" y="766.3">0.4</text>
<text x="182.1" y="626.5">0.5</text>
<text x="182.1" y="486.6">0.6</text>
<text x="182.1" y="346.8">0.7</text>
<text x="182.1" y="206.9">0.8</text>
</g>
<text x="837" y="65.8" font-size="45.8" text-anchor="middle">(a) Validation IoU vs. epochs (Krestenitis)</text>
<g stroke="#000" stroke-width="3.333" fill="none">
<rect x="1688.4" y="90.4" width="1253.1" height="944" />
<path d="M1726 1034.4v14.6"/>
<path d="M1919.1 1034.4v14.6"/>
<path d="M2112.2 1034.4v14.6"/>
<path d="M2305.3 1034.4v14.6"/>
<path d="M2498.4 1034.4v14.6"/>
<path d="M2691.4 1034.4v14.6"/>
<path d="M2884.5 1034.4v14.6"/>
<path d="M1688.4 990.5h-14.6"/>
<path d="M1688.4 885.5h-14.6"/>
<path d="M1688.4 780.5h-14.6"/>
<path d="M1688.4 675.5h-14.6"/>
<path d="M1688.4 570.5h-14.6"/>
<path d="M1688.4 465.5h-14.6"/>
<path d="M1688.4 360.5h-14.6"/>
<path d="M1688.4 255.5h-14.6"/>
<path d="M1688.4 150.5h-14.6"/>
</g>
<g font-size="41.7" text-anchor="middle">
<text x="1726" y="1095.4">0</text>
<text x="1919.1" y="1095.4">10</text>
<text x="2112.2" y="1095.4">20</text>
<text x="2305.3" y="1095.4">30</text>
<text x="2498.4" y="1095.4">40</text>
<text x="2691.4" y="1095.4">50</text>
<text x="2884.5" y="1095.4">60</text>
<text x="2314.9" y="1155.1">Epochs</text>
<text transform="translate(1566.8 562.4) rotate(-90)">Validation Loss</text>
</g>
<g font-size="41.7" text-anchor="end">
<text x="1660" y="1007">0.6</text>
<text x="1660" y="902">0.8</text>
<text x="1660" y="797">1.0</text>
<text x="1660" y="692">1.2</text>
<text x="1660" y="587">1.4</text>
<text x="1660" y="482">1.6</text>
<text x="1660" y="377">1.8</text>
<text x="1660" y="272">2.0</text>
<text x="1660" y="167">2.2</text>
</g>
<text x="2314.9" y="65.8" font-size="45.8" text-anchor="middle">(b) Validation loss vs. epochs (Krestenitis)</text>
<g stroke="#000" stroke-width="3.333" fill="none">
<rect x="210.5" y="1268.4" width="1253.1" height="943" />
<path d="M255.9 2211.4v14.6"/>
<path d="M486.1 2211.4v14.6"/>
<path d="M716.2 2211.4v14.6"/>
<path d="M946.4 2211.4v14.6"/>
<path d="M1176.5 2211.4v14.6"/>
<path d="M1406.7 2211.4v14.6"/>
<path d="M210.5 2145.5h-14.6"/>
<path d="M210.5 2035.6h-14.6"/>
<path d="M210.5 1925.8h-14.6"/>
<path d="M210.5 1815.9h-14.6"/>
<path d="M210.5 1706.1h-14.6"/>
<path d="M210.5 1596.2h-14.6"/>
<path d="M210.5 1486.4h-14.6"/>
<path d="M210.5 1376.5h-14.6"/>
</g>
<g font-size="41.7" text-anchor="middle">
<text x="255.9" y="2272.4">0</text>
<text x="486.1" y="2272.4">20</text>
<text x="716.2" y="2272.4">40</text>
<text x="946.4" y="2272.4">60</text>
<text x="1176.5" y="2272.4">80</text>
<text x="1406.7" y="2272.4">100</text>
<text x="837" y="2332.1">Epochs</text>
<text transform="translate(62.4 1739.9) rotate(-90)">Validation IoU</text>
</g>
<g font-size="41.7" text-anchor="end">
<text x="182.1" y="2162">0.30</text>
<text x="182.1" y="2052.1">0.35</text>
<text x="182.1" y="1942.3">0.40</text>
<text x="182.1" y="1832.4">0.45</text>
<text x="182.1" y="1722.6">0.50</text>
<text x="182.1" y="1612.7">0.55</text>
<text x="182.1" y="1502.9">0.60</text>
<text x="182.1" y="1393">0.65</text>
</g>
<text x="837" y="1243.8" font-size="45.8" text-anchor="middle">(c) Validation IoU vs. epochs (Peru)</text>
<g stroke="#000" stroke-width="3.333" fill="none">
<rect x="1688.4" y="1268.4" width="1253.1" height="943" />
<path d="M1733.8 2211.4v14.6"/>
<path d="M1964 2211.4v14.6"/>
<path d="M2194.1 2211.4v14.6"/>
<path d="M2424.3 2211.4v14.6"/>
<path d="M2654.4 2211.4v14.6"/>
<path d="M2884.6 2211.4v14.6"/>
<path d="M1688.4 2198.5h-14.6"/>
<path d="M1688.4 2080.8h-14.6"/>
<path d="M1688.4 1963.1h-14.6"/>
<path d="M1688.4 1845.4h-14.6"/>
<path d="M1688.4 1727.6h-14.6"/>
<path d="M1688.4 1609.9h-14.6"/>
<path d="M1688.4 1492.2h-14.6"/>
<path d="M1688.4 1374.5h-14.6"/>
</g>
<g font-size="41.7" text-anchor="middle">
<text x="1733.8" y="2272.4">0</text>
<text x="1964" y="2272.4">20</text>
<text x="2194.1" y="2272.4">40</text>
<text x="2424.3" y="2272.4">60</text>
<text x="2654.4" y="2272.4">80</text>
<text x="2884.6" y="2272.4">100</text>
<text x="2314.9" y="2332.1">Epochs</text>
<text transform="translate(1540.7 1739.9) rotate(-90)">Validation Loss</text>
</g>
<g font-size="41.7" text-anchor="end">
<text x="1660" y="2215">0.55</text>
<text x="1660" y="2097.3">0.60</text>
<text x="1660" y="1979.6">0.65</text>
<text x="1660" y="1861.9">0.70</text>
<text x="1660" y="1744.1">0.75</text>
<text x="1660" y="1626.4">0.80</text>
<text x="1660" y="1508.7">0.85</text>
<text x="1660" y="1391">0.90</text>
</g>
<text x="2314.9" y="1243.8" font-size="45.8" text-anchor="middle">(d) Validation loss vs. epochs (Peru)</text>
<text x="2583.7" y="158.5" font-size="41.7" text-anchor="middle">Models</text>
<path d="M2260.9 199.9h75" stroke="#1f77b4" stroke-width="8.333" stroke-linecap="square" fill="none"/>
<text x="2365.9" y="213.3" font-size="37.5">resnet 34 unet aspp</text>
<path d="M2260.9 254h75" stroke="#d62728" stroke-width="8.333" stroke-linecap="square" fill="none"/>
<text x="2365.9" y="267.4" font-size="37.5">resnet 34 deeplab v3+</text>
<path d="M2260.9 308.8h75" stroke="#2ca02c" stroke-width="8.333" stroke-linecap="square" fill="none"/>
<text x="2365.9" y="322.2" font-size="37.5">efficientnet v2 m deeplab v3</text>
<path d="M2260.9 363.9h75" stroke="#9467bd" stroke-width="8.333" stroke-linecap="square" fill="none"/>
<text x="2365.9" y="377.3" font-size="37.5">transunet</text>
<path d="M2260.9 419h75" stroke="#ff7f0e" stroke-width="8.333" stroke-linecap="square" fill="none"/>
<text x="2365.9" y="432.4" font-size="37.5">resnet 34 unet</text>
<path d="M2260.9 473.1h75" stroke="#8c564b" stroke-width="8.333" stroke-linecap="square" fill="none"/>
<text x="2365.9" y="486.5" font-size="37.5">swin tiny unet</text>
<text x="2751.7" y="1336.1" font-size="41.7" text-anchor="middle">Training mode</text>
<path d="M2608.5 1377.7h75" stroke="#000" stroke-width="8.333" stroke-dasharray="41.667 16.667" fill="none"/>
<text x="2713.5" y="1391.3" font-size="37.5">Fine-tune</text>
<path d="M2608.5 1432h75" stroke="#000" stroke-width="8.333" stroke-dasharray="8.333 8.333" fill="none"/>
<text x="2713.5" y="1446" font-size="37.5">Scratch</text>
</svg>
</body></html>
